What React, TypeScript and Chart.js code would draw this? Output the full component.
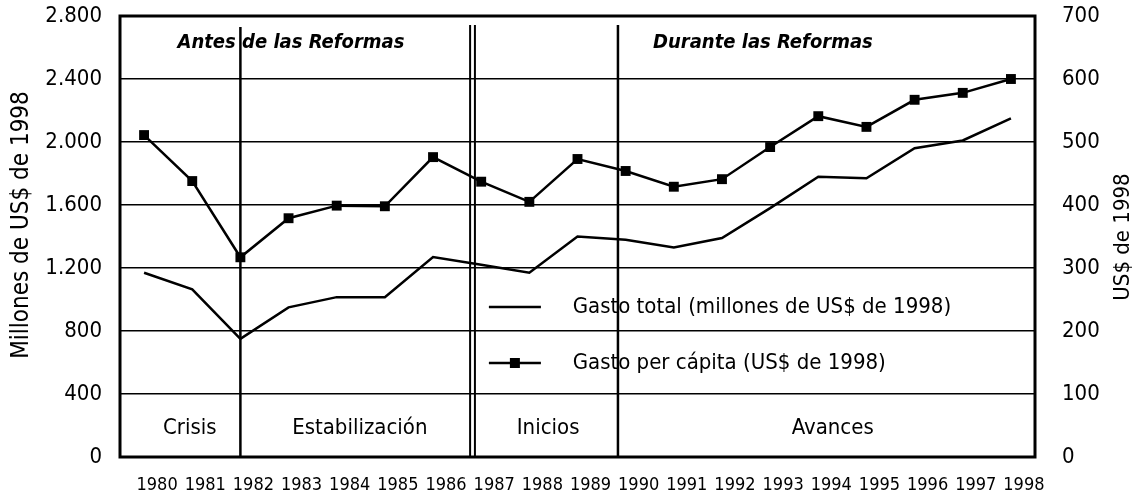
import React, { useEffect, useRef } from 'react';
import { Chart, registerables } from 'chart.js';

Chart.register(...registerables);

// ---- Data ----
const years = ['1980', '1981', '1982', '1983', '1984', '1985', '1986', '1987', '1988', '1989', '1990', '1991', '1992', '1993', '1994', '1995', '1996', '1997', '1998'];
const gastoTotal = [1170, 1065, 750, 950, 1015, 1015, 1270, 1220, 1170, 1400, 1380, 1330, 1390, 1580, 1780, 1770, 1960, 2010, 2150];
const gastoPerCapita = [511, 438, 317, 379, 399, 398, 476, 437, 405, 473, 454, 429, 441, 492, 541, 524, 567, 578, 600];
const leftTicks = [0, 400, 800, 1200, 1600, 2000, 2400, 2800];
const rightTicks = [0, 100, 200, 300, 400, 500, 600, 700];
const seriesNames = ['Gasto total (millones de US$ de 1998)', 'Gasto per cápita (US$ de 1998)'];
const eraTitles = ['Antes de las Reformas', 'Durante las Reformas'];
const phaseLabels = ['Crisis', 'Estabilización', 'Inicios', 'Avances'];
const leftTitle = 'Millones de US$ de 1998';
const rightTitle = 'US$ de 1998';

const FONT = "'DejaVu Sans Condensed', 'Liberation Sans Narrow', sans-serif";

const fmt = (v: number) => String(v).replace(/\B(?=(\d{3})+(?!\d))/g, '.');

const decorPlugin = {
  id: 'decor',
  beforeDatasetsDraw(chart: any) {
    const { ctx, chartArea: a, scales } = chart;
    const x = scales.x;
    ctx.save();
    ctx.strokeStyle = '#000';
    const vline = (idx: number, top: number, w: number) => {
      const px = x.getPixelForValue(idx);
      ctx.lineWidth = w;
      ctx.beginPath();
      ctx.moveTo(px, a.top + top);
      ctx.lineTo(px, a.bottom);
      ctx.stroke();
    };
    vline(2, 11, 2.5);
    vline(6.77, 9, 2);
    vline(6.87, 9, 2);
    vline(9.84, 9, 2.5);
    ctx.lineWidth = 3;
    ctx.strokeRect(a.left, a.top, a.right - a.left, a.bottom - a.top);
    ctx.restore();
  },
  afterDraw(chart: any) {
    const { ctx, chartArea: a, scales } = chart;
    const x = scales.x;
    ctx.save();
    ctx.fillStyle = '#000';
    ctx.strokeStyle = '#000';
    ctx.textBaseline = 'middle';
    ctx.font = `italic bold 20px ${FONT}`;
    ctx.textAlign = 'center';
    ctx.fillText(eraTitles[0], x.getPixelForValue(3.05), a.top + 27);
    ctx.fillText(eraTitles[1], x.getPixelForValue(12.85), a.top + 27);
    ctx.font = `22px ${FONT}`;
    const phaseX = [0.95, 4.48, 8.39, 14.3];
    phaseLabels.forEach((t, i) => ctx.fillText(t, x.getPixelForValue(phaseX[i]), a.bottom - 29));
    ctx.textAlign = 'left';
    const lx0 = x.getPixelForValue(7.16);
    const lx1 = x.getPixelForValue(8.24);
    const tx = x.getPixelForValue(8.9);
    const ly = [a.top + 291, a.top + 347];
    ctx.lineWidth = 2.5;
    ly.forEach((yy) => {
      ctx.beginPath();
      ctx.moveTo(lx0, yy);
      ctx.lineTo(lx1, yy);
      ctx.stroke();
    });
    const mx = (lx0 + lx1) / 2;
    ctx.fillRect(mx - 5, ly[1] - 5, 10, 10);
    ctx.font = `22px ${FONT}`;
    ctx.fillText(seriesNames[0], tx, ly[0]);
    ctx.fillText(seriesNames[1], tx, ly[1]);
    ctx.textAlign = 'center';
    ctx.font = `24px ${FONT}`;
    ctx.save();
    ctx.translate(22, 225);
    ctx.rotate(-Math.PI / 2);
    ctx.fillText(leftTitle, 0, 0);
    ctx.restore();
    ctx.font = `22px ${FONT}`;
    ctx.save();
    ctx.translate(1123, 237);
    ctx.rotate(-Math.PI / 2);
    ctx.fillText(rightTitle, 0, 0);
    ctx.restore();
    ctx.restore();
  },
};

export default function App() {
  const ref = useRef<HTMLCanvasElement | null>(null);
  useEffect(() => {
    document.body.style.margin = '0';
    const canvas = ref.current;
    if (!canvas) return;
    const chart = new Chart(canvas, {
      type: 'line',
      data: {
        labels: years,
        datasets: [
          {
            label: seriesNames[0],
            data: gastoTotal,
            yAxisID: 'yL',
            borderColor: '#000',
            borderWidth: 2.5,
            pointRadius: 0,
            tension: 0,
          },
          {
            label: seriesNames[1],
            data: gastoPerCapita,
            yAxisID: 'yR',
            borderColor: '#000',
            backgroundColor: '#000',
            borderWidth: 2.5,
            pointStyle: 'rect',
            pointRadius: 7,
            pointBorderWidth: 0,
            pointBackgroundColor: '#000',
            tension: 0,
          },
        ],
      },
      options: {
        responsive: false,
        animation: false,
        layout: { padding: { top: 16, left: 0, right: 0, bottom: 0 } },
        plugins: { legend: { display: false }, tooltip: { enabled: false } },
        scales: {
          x: {
            type: 'category',
            offset: true,
            grid: { display: false },
            border: { display: false },
            ticks: {
              color: '#000',
              font: { family: FONT, size: 18 },
              padding: 10,
              labelOffset: 13,
              maxRotation: 0,
              autoSkip: false,
            },
            afterFit: (s: any) => { s.height = 44; s.paddingLeft = 0; s.paddingRight = 0; },
          },
          yL: {
            type: 'linear',
            position: 'left',
            min: 0,
            max: 2800,
            afterBuildTicks: (s: any) => { s.ticks = leftTicks.map((v) => ({ value: v })); },
            grid: { color: '#000', lineWidth: 1.5, drawTicks: false },
            border: { display: false },
            ticks: {
              color: '#000',
              font: { family: FONT, size: 22 },
              padding: 18,
              callback: (v: any) => fmt(Number(v)),
            },
            afterFit: (s: any) => { s.width = 120; s.paddingTop = 0; s.paddingBottom = 0; },
          },
          yR: {
            type: 'linear',
            position: 'right',
            min: 0,
            max: 700,
            afterBuildTicks: (s: any) => { s.ticks = rightTicks.map((v) => ({ value: v })); },
            grid: { display: false, drawTicks: false },
            border: { display: false },
            ticks: {
              color: '#000',
              font: { family: FONT, size: 22 },
              padding: 27,
              callback: (v: any) => String(v),
            },
            afterFit: (s: any) => { s.width = 112; s.paddingTop = 0; s.paddingBottom = 0; },
          },
        },
      },
      plugins: [decorPlugin],
    });
    return () => chart.destroy();
  }, []);
  return (
    <div style={{ width: 1147, height: 501, background: '#fff' }}>
      <canvas ref={ref} width={1147} height={501} style={{ display: 'block' }} />
    </div>
  );
}
